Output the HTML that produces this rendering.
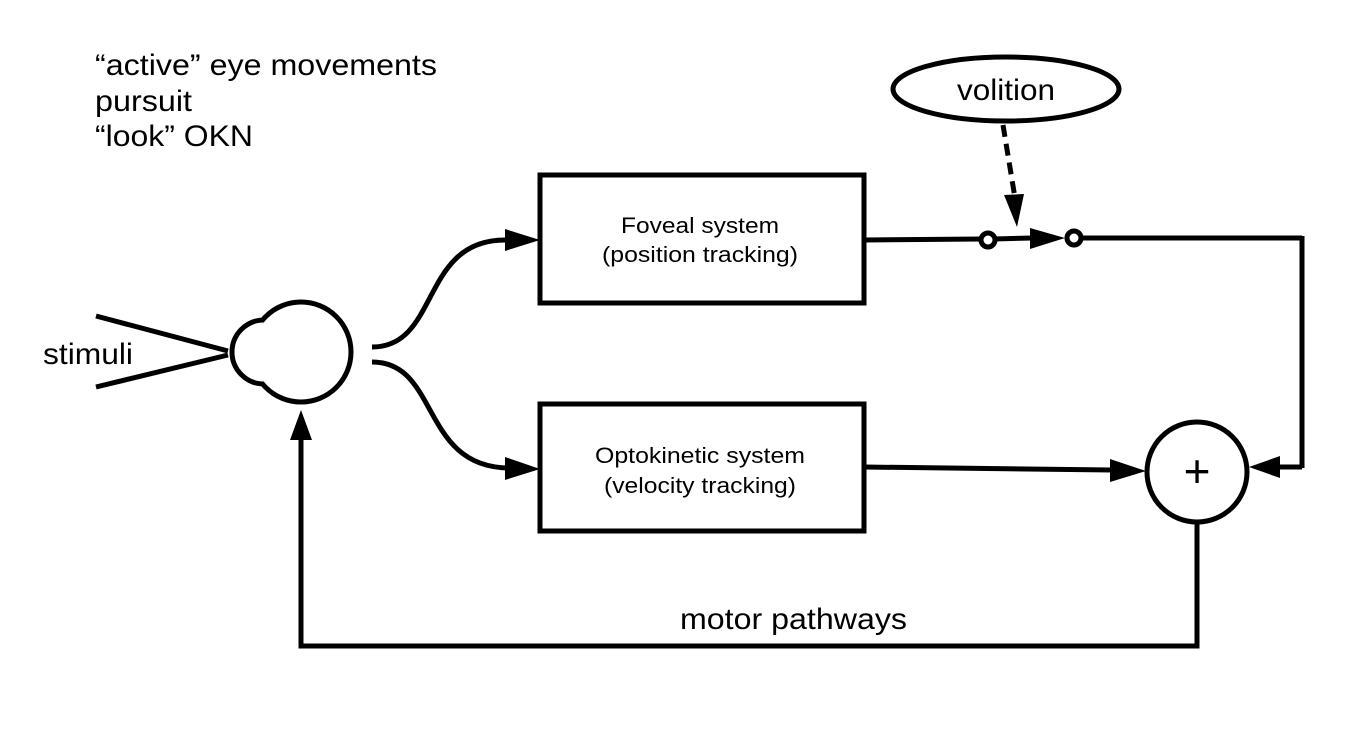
<!DOCTYPE html>
<html><head><style>body{margin:0;background:#fff}svg{display:block}</style></head><body>
<svg width="1353" height="746" viewBox="0 0 1353 746" font-family="Liberation Sans, sans-serif">
<g font-size="30" fill="#000">
<text x="95" y="75" textLength="342" lengthAdjust="spacingAndGlyphs">“active” eye movements</text>
<text x="95" y="111" textLength="97" lengthAdjust="spacingAndGlyphs">pursuit</text>
<text x="95" y="146" textLength="158" lengthAdjust="spacingAndGlyphs">“look” OKN</text>
<text x="43" y="364" textLength="90" lengthAdjust="spacingAndGlyphs">stimuli</text>
<text x="680" y="629" textLength="227" lengthAdjust="spacingAndGlyphs">motor pathways</text>
</g>
<g stroke="#000" stroke-width="5" fill="none">
<line x1="96" y1="316" x2="228" y2="351"/>
<line x1="96" y1="387" x2="228" y2="355"/>
<circle cx="301" cy="352" r="50" fill="#fff"/>
<path d="M264,320 A32,32 0 1 0 264,384" fill="#fff"/>
<path d="M372,347 C440,347 420,240 505,240" />
<path d="M372,362 C440,362 420,468 510,468"/>
<rect x="540" y="175" width="324" height="128" fill="#fff"/>
<rect x="540" y="404" width="324" height="127" fill="#fff"/>
<line x1="864" y1="240" x2="982" y2="239"/>
<line x1="994" y1="239" x2="1032" y2="238"/>
<line x1="1080" y1="238" x2="1302" y2="238"/>
<line x1="1302" y1="236" x2="1302" y2="468"/>
<line x1="1302" y1="467" x2="1275" y2="467"/>
<line x1="864" y1="467" x2="1112" y2="470"/>
<circle cx="1197" cy="472" r="50" fill="#fff"/>
<polyline points="1197,522 1197,646 301,646 301,440"/>
<ellipse cx="1006" cy="89" rx="113" ry="32" fill="#fff"/>
<line x1="1003" y1="125" x2="1015" y2="198" stroke-dasharray="12,7"/>
<circle cx="988" cy="240" r="7" fill="#fff"/>
<circle cx="1074" cy="238" r="7" fill="#fff"/>
</g>
<g fill="#000">
<path d="M505,229L540,240L505,251z"/>
<path d="M505,457L540,469L505,480z"/>
<path d="M1030,228L1065,238L1030,249z"/>
<path d="M1280,456L1249,467L1280,478z"/>
<path d="M1110,459L1146,471L1110,482z"/>
<path d="M290,440L301,410L312,440z"/>
<path d="M1004,195L1017,227L1024,194z"/>
</g>
<g font-size="22" text-anchor="middle">
<text x="700" y="233" textLength="158" lengthAdjust="spacingAndGlyphs">Foveal system</text>
<text x="700" y="262" textLength="196" lengthAdjust="spacingAndGlyphs">(position tracking)</text>
<text x="700" y="463" textLength="210" lengthAdjust="spacingAndGlyphs">Optokinetic system</text>
<text x="700" y="493" textLength="192" lengthAdjust="spacingAndGlyphs">(velocity tracking)</text>
</g>
<text x="1006" y="100" font-size="30" text-anchor="middle" textLength="98" lengthAdjust="spacingAndGlyphs">volition</text>
<text x="1197" y="487" font-size="46" text-anchor="middle">+</text>
</svg>
</body></html>
